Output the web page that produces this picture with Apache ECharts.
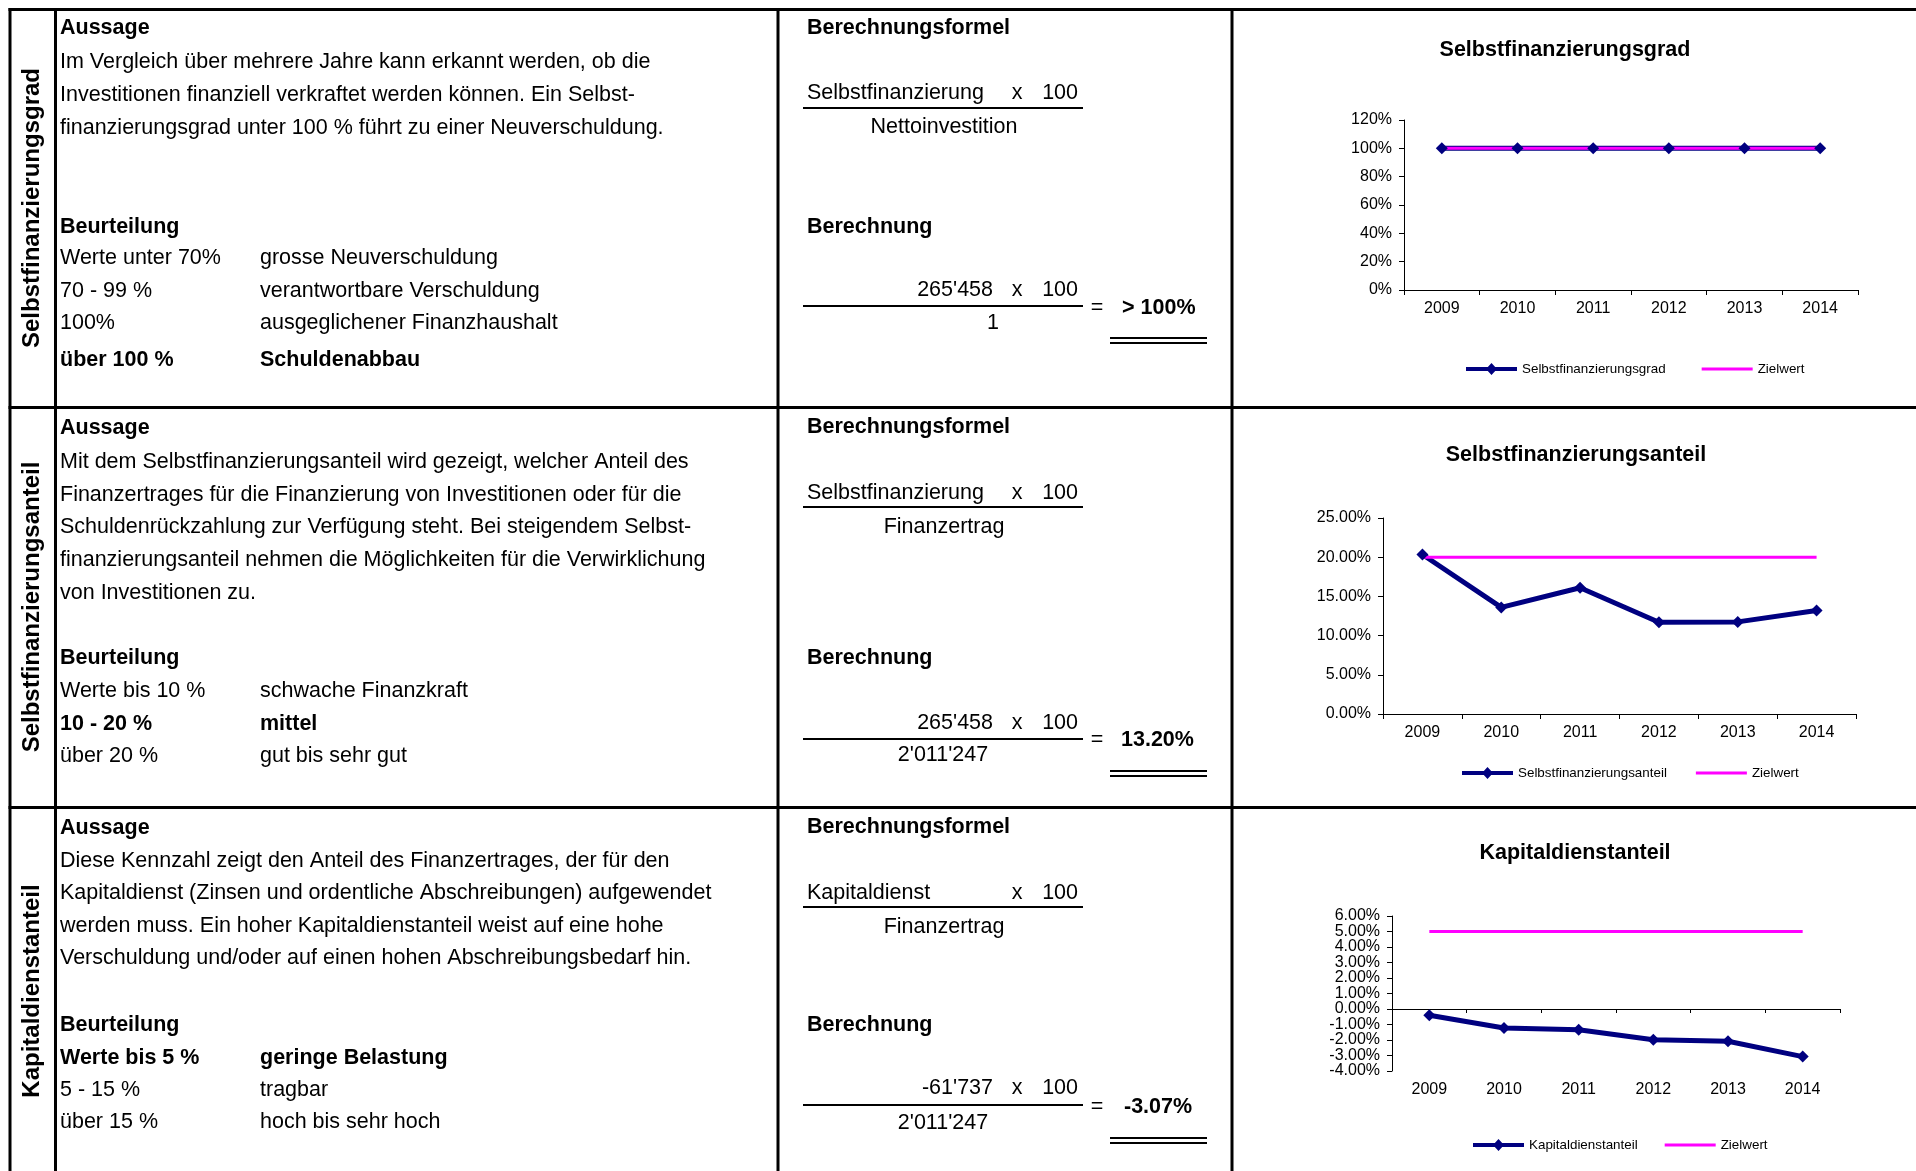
<!DOCTYPE html>
<html><head><meta charset="utf-8">
<script src="https://cdn.jsdelivr.net/npm/echarts@6/dist/echarts.min.js"></script>
<style>html,body{margin:0;padding:0;background:#fff;overflow:hidden}#c{width:1916px;height:1171px}</style>
</head><body><div id="c"></div><script>
const FONT = '"Liberation Sans", Arial, Helvetica, sans-serif';

// ---- data ----
const years = ['2009', '2010', '2011', '2012', '2013', '2014'];
const gradValues = [100, 100, 100, 100, 100, 100];
const gradTarget = [100, 100, 100, 100, 100, 100];
const anteilValues = [20.35, 13.6, 16.1, 11.7, 11.75, 13.2];
const anteilTarget = [20, 20, 20, 20, 20, 20];
const kapitalValues = [-0.4, -1.23, -1.34, -1.98, -2.08, -3.07];
const kapitalTarget = [5, 5, 5, 5, 5, 5];
const gradTicks = ['0%', '20%', '40%', '60%', '80%', '100%', '120%'];
const anteilTicks = ['0.00%', '5.00%', '10.00%', '15.00%', '20.00%', '25.00%'];
const kapitalTicks = ['-4.00%', '-3.00%', '-2.00%', '-1.00%', '0.00%', '1.00%', '2.00%', '3.00%', '4.00%', '5.00%', '6.00%'];
const chartTitles = ['Selbstfinanzierungsgrad', 'Selbstfinanzierungsanteil', 'Kapitaldienstanteil'];
const targetName = 'Zielwert';

// ---- table texts ----
const rowLabels = [
  ['Selbstfinanzierungsgrad', 208],
  ['Selbstfinanzierungsanteil', 607],
  ['Kapitaldienstanteil', 991]
];
// [x, y, text, bold, align]
const tableTexts = [
  // row 1 left
  [60, 28, 'Aussage', 1],
  [60, 62, 'Im Vergleich über mehrere Jahre kann erkannt werden, ob die', 0],
  [60, 95, 'Investitionen finanziell verkraftet werden können. Ein Selbst-', 0],
  [60, 128, 'finanzierungsgrad unter 100 % führt zu einer Neuverschuldung.', 0],
  [60, 227, 'Beurteilung', 1],
  [60, 258, 'Werte unter 70%', 0], [260, 258, 'grosse Neuverschuldung', 0],
  [60, 291, '70 - 99 %', 0], [260, 291, 'verantwortbare Verschuldung', 0],
  [60, 323, '100%', 0], [260, 323, 'ausgeglichener Finanzhaushalt', 0],
  [60, 360, 'über 100 %', 1], [260, 360, 'Schuldenabbau', 1],
  // row 2 left
  [60, 428, 'Aussage', 1],
  [60, 462, 'Mit dem Selbstfinanzierungsanteil wird gezeigt, welcher Anteil des', 0],
  [60, 495, 'Finanzertrages für die Finanzierung von Investitionen oder für die', 0],
  [60, 527, 'Schuldenrückzahlung zur Verfügung steht. Bei steigendem Selbst-', 0],
  [60, 560, 'finanzierungsanteil nehmen die Möglichkeiten für die Verwirklichung', 0],
  [60, 593, 'von Investitionen zu.', 0],
  [60, 658, 'Beurteilung', 1],
  [60, 691, 'Werte bis 10 %', 0], [260, 691, 'schwache Finanzkraft', 0],
  [60, 724, '10 - 20 %', 1], [260, 724, 'mittel', 1],
  [60, 756, 'über 20 %', 0], [260, 756, 'gut bis sehr gut', 0],
  // row 3 left
  [60, 828, 'Aussage', 1],
  [60, 861, 'Diese Kennzahl zeigt den Anteil des Finanzertrages, der für den', 0],
  [60, 893, 'Kapitaldienst (Zinsen und ordentliche Abschreibungen) aufgewendet', 0],
  [60, 926, 'werden muss. Ein hoher Kapitaldienstanteil weist auf eine hohe', 0],
  [60, 958, 'Verschuldung und/oder auf einen hohen Abschreibungsbedarf hin.', 0],
  [60, 1025, 'Beurteilung', 1],
  [60, 1058, 'Werte bis 5 %', 1], [260, 1058, 'geringe Belastung', 1],
  [60, 1090, '5 - 15 %', 0], [260, 1090, 'tragbar', 0],
  [60, 1122, 'über 15 %', 0], [260, 1122, 'hoch bis sehr hoch', 0],
  // row 1 formula
  [807, 28, 'Berechnungsformel', 1],
  [807, 93, 'Selbstfinanzierung', 0], [1017, 93, 'x', 0, 'center'], [1078, 93, '100', 0, 'right'],
  [944, 127, 'Nettoinvestition', 0, 'center'],
  [807, 227, 'Berechnung', 1],
  [993, 290, "265'458", 0, 'right'], [1017, 290, 'x', 0, 'center'], [1078, 290, '100', 0, 'right'],
  [993, 323, '1', 0, 'center'],
  [1097, 308, '=', 0, 'center'], [1122, 308, '> 100%', 1],
  // row 2 formula
  [807, 427, 'Berechnungsformel', 1],
  [807, 493, 'Selbstfinanzierung', 0], [1017, 493, 'x', 0, 'center'], [1078, 493, '100', 0, 'right'],
  [944, 527, 'Finanzertrag', 0, 'center'],
  [807, 658, 'Berechnung', 1],
  [993, 723, "265'458", 0, 'right'], [1017, 723, 'x', 0, 'center'], [1078, 723, '100', 0, 'right'],
  [943, 755, "2'011'247", 0, 'center'],
  [1097, 740, '=', 0, 'center'], [1121, 740, '13.20%', 1],
  // row 3 formula
  [807, 827, 'Berechnungsformel', 1],
  [807, 893, 'Kapitaldienst', 0], [1017, 893, 'x', 0, 'center'], [1078, 893, '100', 0, 'right'],
  [944, 927, 'Finanzertrag', 0, 'center'],
  [807, 1025, 'Berechnung', 1],
  [993, 1088, "-61'737", 0, 'right'], [1017, 1088, 'x', 0, 'center'], [1078, 1088, '100', 0, 'right'],
  [943, 1123, "2'011'247", 0, 'center'],
  [1097, 1107, '=', 0, 'center'], [1124, 1107, '-3.07%', 1]
];

const elements = [];
function ln(x1, y1, x2, y2, w) {
  elements.push({ type: 'line', silent: true, shape: { x1, y1, x2, y2 }, style: { stroke: '#000', lineWidth: w } });
}
// table grid
[9.5, 407.5, 807.5].forEach(y => ln(8.5, y, 1916, y, 3));
[10, 55.5, 778, 1232].forEach(x => ln(x, 8, x, 1171, 3));
// fraction lines
[108, 306, 507, 739, 907, 1105].forEach(y => ln(803, y, 1083, y, 2));
// double underlines
[338, 343, 771, 776, 1138, 1143].forEach(y => ln(1110, y, 1207, y, 2));

tableTexts.forEach(t => {
  const al = t[4] || 'left';
  elements.push({ type: 'text', x: t[0], y: t[1], silent: true,
    style: { text: t[2], fill: '#000', font: (t[3] ? 'bold ' : '') + '21.5px ' + FONT,
      align: al, textAlign: al, verticalAlign: 'middle', textVerticalAlign: 'middle' } });
});
rowLabels.forEach(r => {
  elements.push({ type: 'text', x: 32, y: r[1], rotation: Math.PI / 2, silent: true,
    style: { text: r[0], fill: '#000', font: 'bold 24px ' + FONT,
      align: 'center', textAlign: 'center', verticalAlign: 'middle', textVerticalAlign: 'middle' } });
});

// ---- charts ----
const grids = [
  { left: 1404, top: 120, width: 454, height: 170 },
  { left: 1383, top: 518, width: 473, height: 196 },
  { left: 1392, top: 916, width: 448, height: 155 }
];
const axisText = { color: '#000', fontSize: 16, fontFamily: FONT };
function xAx(gi, extra) {
  return Object.assign({
    type: 'category', gridIndex: gi, data: years, boundaryGap: true,
    axisLine: { show: true, onZero: false, lineStyle: { color: '#000', width: 1 } },
    axisTick: { show: true, length: 5, lineStyle: { color: '#000' } },
    axisLabel: Object.assign({ margin: 11 }, axisText),
    splitLine: { show: false }
  }, extra || {});
}
// parity: null = all labels, 0 = even-index labels only, 1 = odd-index labels only
function yAx(gi, min, max, interval, ticks, parity, showLine) {
  return {
    type: 'value', gridIndex: gi, min, max, interval, position: 'left',
    axisLine: { show: showLine !== false, onZero: false, lineStyle: { color: '#000', width: 1 } },
    axisTick: { show: showLine !== false, length: 5, lineStyle: { color: '#000' } },
    axisLabel: Object.assign({ margin: 12, showMinLabel: true, showMaxLabel: true, hideOverlap: false,
      formatter: v => {
        const i = Math.round((v - min) / interval);
        return (parity == null || i % 2 === parity) ? ticks[i] : '';
      } }, axisText),
    splitLine: { show: false }
  };
}
function mainSeries(name, data, xi, yi) {
  return { type: 'line', name, data, xAxisIndex: xi, yAxisIndex: yi, symbol: 'diamond', symbolSize: 12,
    lineStyle: { color: '#000080', width: 5 }, itemStyle: { color: '#000080' }, animation: false, silent: true };
}
function targetSeries(data, xi, yi) {
  return { type: 'line', name: targetName, data, xAxisIndex: xi, yAxisIndex: yi, symbol: 'none',
    lineStyle: { color: '#FF00FF', width: 3 }, itemStyle: { color: '#FF00FF' }, animation: false, silent: true };
}
const mainIcon = 'path://M0,5L51,5L51,9L0,9Z M25.5,1L31,7L25.5,13L20,7Z M0,0L0.01,0 M0,14L0.01,14';
const targetIcon = 'path://M0,5.5L51,5.5L51,8.5L0,8.5Z M0,0L0.01,0 M0,14L0.01,14';
function legend(name, left, top, gap) {
  return { data: [{ name, icon: mainIcon }, { name: targetName, icon: targetIcon }], left, top, padding: 0,
    itemWidth: 51, itemHeight: 14, itemGap: gap, selectedMode: false, symbolKeepAspect: true,
    itemStyle: { borderWidth: 0 },
    textStyle: { color: '#000', fontSize: 13.4, fontFamily: FONT } };
}
function title(text, cx, top) {
  return { text, left: cx, top, textAlign: 'center', padding: 0,
    textStyle: { color: '#000', fontSize: 21.5, fontWeight: 'bold', fontFamily: FONT } };
}

const kapitalY = yAx(2, -4, 6, 1, kapitalTicks, 0, true);
const kapitalYOdd = yAx(2, -4, 6, 1, kapitalTicks, 1, false);
kapitalYOdd.axisLabel.showMinLabel = false;
kapitalYOdd.axisLabel.showMaxLabel = false;

const option = {
  animation: false,
  backgroundColor: '#fff',
  textStyle: { fontFamily: FONT },
  title: [title(chartTitles[0], 1565, 39), title(chartTitles[1], 1576, 444), title(chartTitles[2], 1575, 842)],
  legend: [legend(chartTitles[0], 1466, 362, 36), legend(chartTitles[1], 1462, 766, 29), legend(chartTitles[2], 1473, 1138, 27)],
  grid: grids.map(g => Object.assign({ outerBoundsMode: 'none', containLabel: false }, g)),
  xAxis: [
    xAx(0), xAx(1),
    xAx(2, { position: 'bottom', axisLine: { show: false, onZero: false }, axisTick: { show: false } }),
    xAx(2, { position: 'top', axisLine: { show: true, onZero: true, onZeroAxisIndex: 2, lineStyle: { color: '#000', width: 1 } },
      axisTick: { show: true, inside: true, length: 4, lineStyle: { color: '#000' } }, axisLabel: { show: false } })
  ],
  yAxis: [
    yAx(0, 0, 120, 20, gradTicks, null, true),
    yAx(1, 0, 25, 5, anteilTicks, null, true),
    kapitalY,
    kapitalYOdd
  ],
  series: [
    mainSeries(chartTitles[0], gradValues, 0, 0), targetSeries(gradTarget, 0, 0),
    mainSeries(chartTitles[1], anteilValues, 1, 1), targetSeries(anteilTarget, 1, 1),
    mainSeries(chartTitles[2], kapitalValues, 2, 2), targetSeries(kapitalTarget, 2, 2)
  ],
  graphic: { elements }
};
const chart = echarts.init(document.getElementById('c'), null, { renderer: 'canvas' });
chart.setOption(option);
</script></body></html>
